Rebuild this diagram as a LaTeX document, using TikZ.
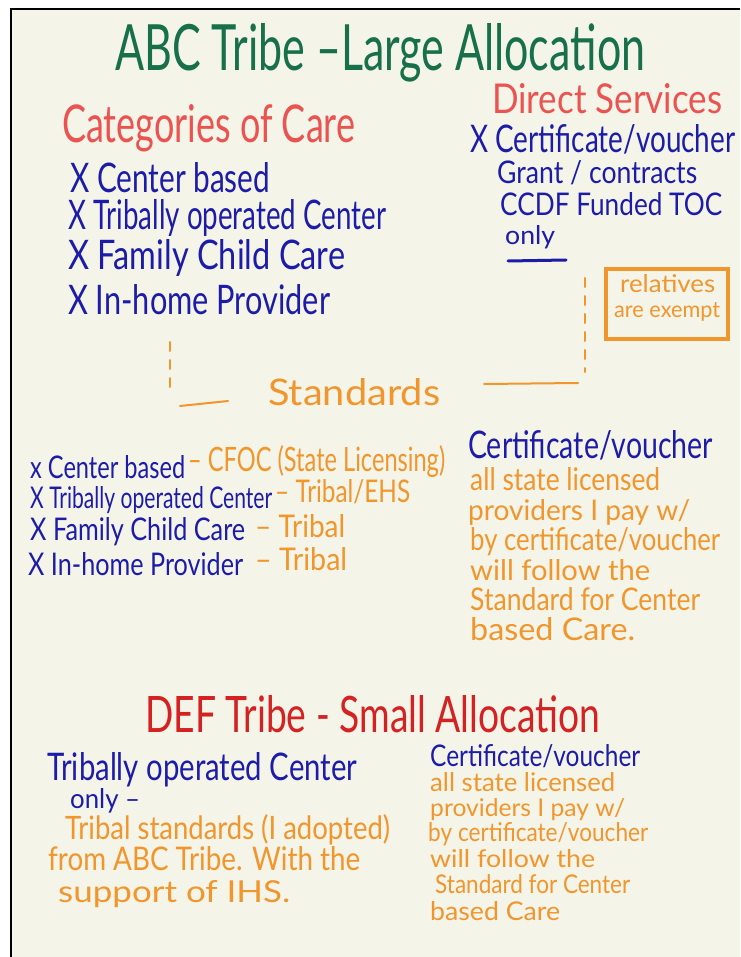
\documentclass[tikz,border=0pt]{standalone}
\usepackage{fontspec}
\setmainfont{Lato}
\usepackage{graphicx}
\definecolor{cream}{HTML}{F5F4E9}
\definecolor{tgreen}{HTML}{17704A}
\definecolor{tred}{HTML}{EA5350}
\definecolor{dred}{HTML}{D42222}
\definecolor{tblue}{HTML}{1C1CA8}
\definecolor{torange}{HTML}{F0962C}
\newcommand{\hw}[3]{\resizebox{#1pt}{#2pt}{#3}}
\tikzset{
  txt/.style={anchor=base west, inner sep=0pt, font=\fontsize{20}{24}\selectfont},
  gtxt/.style={txt, text=tgreen},
  rtxt/.style={txt, text=tred},
  drtxt/.style={txt, text=dred},
  btxt/.style={txt, text=tblue},
  otxt/.style={txt, text=torange},
  dashline/.style={draw=torange, line width=2pt, dash pattern=on 9pt off 9pt, line cap=round},
  solidline/.style={draw=torange, line width=2pt, line cap=round},
}
\begin{document}
\begin{tikzpicture}[x=1pt,y=-1pt]
\useasboundingbox (0,0) rectangle (740,957);
\fill[white] (0,0) rectangle (740,957);
\fill[cream] (11,9) rectangle (740,957);
\draw[black, line width=2.5pt] (11,957) -- (11,9) -- (740,9);

% Title
\node[gtxt] (title) at (115,71) {\hw{530}{47}{ABC Tribe –Large Allocation}};

% Categories of care
\node[rtxt] (cat) at (62,143) {\hw{293}{38}{Categories of Care}};
\node[btxt] (c1) at (70,193) {\hw{200}{30}{X Center based}};
\node[btxt] (c2) at (68,230) {\hw{318}{30}{X Tribally operated Center}};
\node[btxt] (c3) at (68,270) {\hw{277}{30}{X Family Child Care}};
\node[btxt] (c4) at (68,314) {\hw{262}{30}{X In-home Provider}};

% Direct services
\node[rtxt] (ds) at (492,114) {\hw{230}{30}{Direct Services}};
\node[btxt] (d1) at (470,153) {\hw{265}{28}{X Certificate/voucher}};
\node[btxt] (d2) at (497,184) {\hw{200}{23}{Grant / contracts}};
\node[btxt] (d3) at (500,216) {\hw{222}{23}{CCDF Funded TOC}};
\node[btxt] (d4) at (505,244) {\hw{50}{19}{only}};
\coordinate (u1) at (508,261);
\coordinate (u2) at (566,260);
\draw[tblue, line width=3pt, line cap=round] (u1) -- (u2);

% relatives box
\node[draw=torange, line width=4pt, minimum width=122pt, minimum height=70pt, inner sep=0pt] (rel) at (667,304) {};
\node[otxt] (rel1) at (620,292) {\hw{95}{18}{relatives}};
\node[otxt] (rel2) at (614,317) {\hw{106}{15}{are exempt}};

% Standards
\node[otxt] (std) at (268,405) {\hw{172}{27}{Standards}};
\coordinate (lt) at (170,342);
\coordinate (lb) at (170,394);
\coordinate (lh1) at (180,406);
\coordinate (lh2) at (228,401);
\coordinate (rt) at (585,278);
\coordinate (rb) at (585,372);
\coordinate (rh1) at (578,383);
\coordinate (rh2) at (484,384);
\draw[dashline] (lt) -- (lb);
\draw[solidline] (lh1) -- (lh2);
\draw[dashline] (rt) -- (rb);
\draw[solidline] (rh1) -- (rh2);

% Standards list
\node[btxt] (s1) at (30,478) {\hw{155}{23}{x Center based}};
\node[otxt] (s1o) at (188,471) {\hw{257}{26}{– CFOC (State Licensing)}};
\node[btxt] (s2) at (30,508) {\hw{242}{22}{X Tribally operated Center}};
\node[otxt] (s2o) at (275,502) {\hw{135}{23}{– Tribal/EHS}};
\node[btxt] (s3) at (30,540) {\hw{215}{23}{X Family Child Care}};
\node[otxt] (s3o) at (255,537) {\hw{90}{23}{– Tribal}};
\node[btxt] (s4) at (28,575) {\hw{215}{23}{X In-home Provider}};
\node[otxt] (s4o) at (255,570) {\hw{92}{23}{– Tribal}};

% Certificate / voucher (ABC)
\node[btxt] (cv) at (468,458) {\hw{245}{28}{Certificate/voucher}};
\node[otxt] (cv1) at (470,490) {\hw{190}{23}{all state licensed}};
\node[otxt] (cv2) at (468,520) {\hw{222}{21}{providers I pay w/}};
\node[otxt] (cv3) at (470,550) {\hw{250}{23}{by certificate/voucher}};
\node[otxt] (cv4) at (470,580) {\hw{180}{21}{will follow the}};
\node[otxt] (cv5) at (470,610) {\hw{230}{23}{Standard for Center}};
\node[otxt] (cv6) at (470,640) {\hw{165}{23}{based Care.}};

% DEF Tribe
\node[drtxt] (def) at (145,732) {\hw{455}{37}{DEF Tribe - Small Allocation}};
\node[btxt] (t1) at (47,780) {\hw{310}{28}{Tribally operated Center}};
\node[btxt] (t2) at (70,808) {\hw{70}{20}{only –}};
\node[otxt] (t3) at (65,839) {\hw{325}{25}{Tribal standards (I adopted)}};
\node[otxt] (t4) at (48,870) {\hw{312}{24}{from ABC Tribe. With the}};
\node[otxt] (t5) at (58,902) {\hw{232}{22}{support of IHS.}};

\node[btxt] (dv) at (430,766) {\hw{210}{22}{Certificate/voucher}};
\node[otxt] (dv1) at (430,791) {\hw{185}{19}{all state licensed}};
\node[otxt] (dv2) at (430,816) {\hw{195}{18}{providers I pay w/}};
\node[otxt] (dv3) at (428,841) {\hw{220}{19}{by certificate/voucher}};
\node[otxt] (dv4) at (430,867) {\hw{165}{18}{will follow the}};
\node[otxt] (dv5) at (435,893) {\hw{195}{19}{Standard for Center}};
\node[otxt] (dv6) at (430,920) {\hw{130}{19}{based Care}};
\end{tikzpicture}
\end{document}
